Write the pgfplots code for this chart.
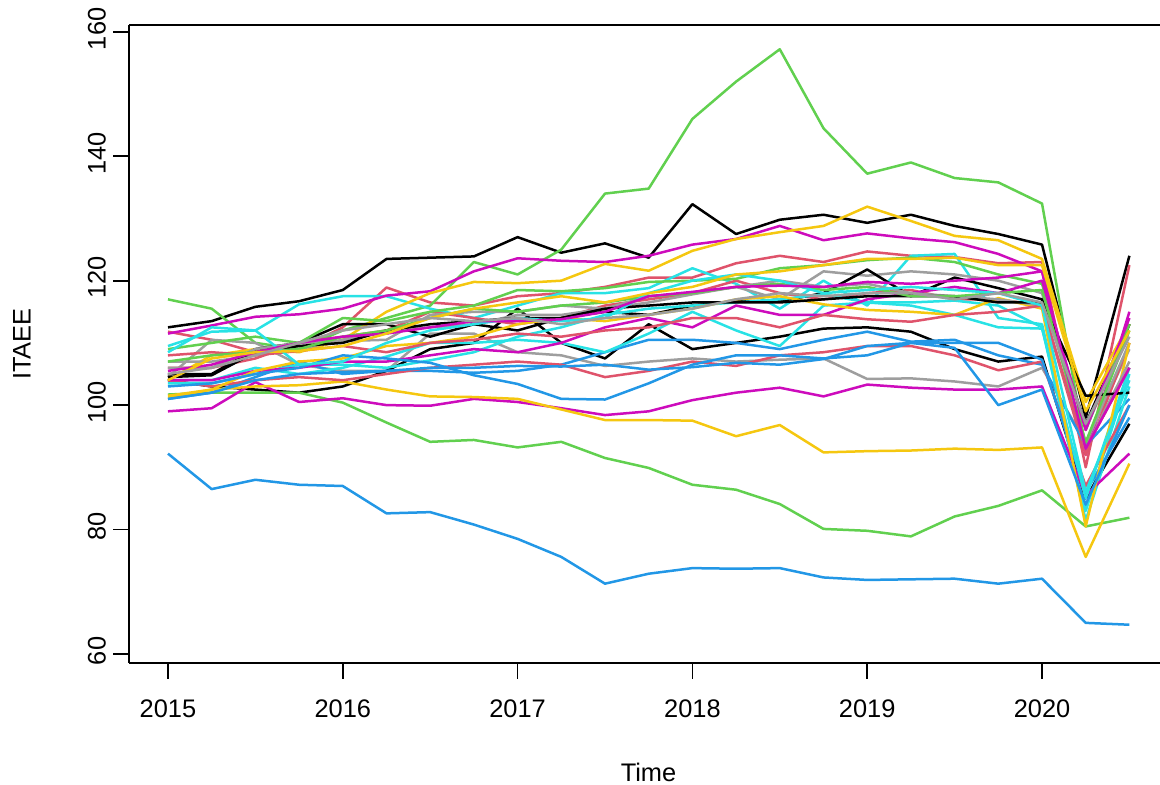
\documentclass[border=0pt]{standalone}
\usepackage{pgfplots}
\pgfplotsset{compat=1.18}
\usepackage{fontspec}
\setmainfont{Liberation Sans}
\definecolor{rblack}{HTML}{000000}
\definecolor{rred}{HTML}{DF536B}
\definecolor{rgreen}{HTML}{61D04F}
\definecolor{rblue}{HTML}{2297E6}
\definecolor{rcyan}{HTML}{28E2E5}
\definecolor{rmag}{HTML}{CD0BBC}
\definecolor{ryel}{HTML}{F5C710}
\definecolor{rgray}{HTML}{9E9E9E}
\newcommand{\ser}[2]{\addplot[#1] table[x expr={2015+0.25*\coordindex}, y index=0, row sep=\\, header=false] {#2};}
\begin{document}
\begin{tikzpicture}
\useasboundingbox (0,0) rectangle (580pt,392.5pt);
\clip (0,0) rectangle (580pt,392.5pt);
\begin{axis}[
  at={(64.5pt,61pt)}, anchor=south west,
  scale only axis, width=515.5pt, height=319pt,
  xmin=2014.777, xmax=2020.675, ymin=58.55, ymax=161.1,
  axis y line*=left,
  axis line style={line width=0.9pt},
  xtick={2015,2016,2017,2018,2019,2020},
  ytick={60,80,100,120,140,160},
  xtick pos=bottom, ytick pos=left,
  tick align=outside, major tick length=8pt,
  tick style={line width=0.9pt, black},
  /pgf/number format/assume math mode=true,
  /pgf/number format/1000 sep={},
  tick label style={font=\fontsize{12.7pt}{14pt}\selectfont},
  xticklabel style={yshift=-7pt},
  yticklabel style={rotate=90, anchor=south, xshift=1.5pt},
  every axis plot/.append style={line width=1.25pt, line join=round},
  clip=true,
]
\ser{rblack}{112.5\\113.5\\115.8\\116.7\\118.5\\123.5\\123.7\\123.9\\127\\124.5\\126\\123.7\\132.3\\127.5\\129.8\\130.6\\129.3\\130.6\\128.8\\127.5\\125.8\\98\\124\\}
\ser{rred}{111.8\\110.5\\108.5\\109\\112.5\\118.9\\116.5\\116\\117.5\\118\\119\\120.5\\120.5\\122.8\\124\\123\\124.7\\124\\123.8\\122.8\\123\\90\\122.5\\}
\ser{rgreen}{117\\115.5\\110\\109\\112\\114\\116\\123\\121\\125\\134\\134.8\\146\\152\\157.2\\144.5\\137.2\\139\\136.5\\135.8\\132.4\\93\\113\\}
\ser{rblue}{92.2\\86.5\\88\\87.2\\87\\82.6\\82.8\\80.8\\78.5\\75.6\\71.3\\72.9\\73.8\\73.7\\73.8\\72.3\\71.9\\72\\72.1\\71.3\\72.1\\65\\64.7\\}
\ser{rcyan}{109.5\\111.8\\112\\116.2\\117.5\\117.5\\115.5\\114\\116\\118\\118\\118.8\\122\\119.5\\115.5\\120\\116\\124\\124.3\\114\\113\\83\\105\\}
\ser{rmag}{111.5\\112.8\\114.2\\114.6\\115.5\\117.6\\118.3\\121.5\\123.6\\123.2\\123\\124\\125.8\\126.7\\128.8\\126.5\\127.6\\126.8\\126.2\\124.3\\121.5\\92\\115\\}
\ser{ryel}{104\\108\\109\\108.5\\110.5\\115\\118\\119.8\\119.6\\120\\122.7\\121.6\\124.8\\126.7\\127.8\\128.8\\131.9\\129.6\\127.2\\126.5\\123.5\\100.5\\113\\}
\ser{rgray}{104.5\\110.5\\110\\106.5\\105.5\\105.5\\111.5\\111.5\\108.5\\108\\106.3\\107\\107.5\\107\\107.3\\107.5\\104.2\\104.3\\103.8\\103\\106\\94\\109\\}
\ser{rblack}{104\\103\\102.5\\102\\103\\105.5\\109\\110\\115.5\\110\\107.5\\113\\109\\110\\111\\112.3\\112.5\\111.8\\109\\107\\107.8\\85\\97\\}
\ser{rred}{106\\106\\107.5\\110\\111\\112\\115\\114\\113\\114\\116\\117\\118\\120\\118\\117\\118\\118.5\\117\\117\\116\\92\\110\\}
\ser{rgreen}{101.7\\102\\102\\102\\100.4\\97.2\\94.1\\94.4\\93.2\\94.1\\91.5\\89.9\\87.2\\86.4\\84.1\\80.1\\79.8\\78.9\\82.1\\83.8\\86.3\\80.5\\81.9\\}
\ser{rblue}{101\\102\\104.5\\107\\105\\105.5\\105.5\\105.2\\105.5\\106.5\\108.5\\110.5\\110.5\\110\\109\\110.5\\111.8\\110.2\\110.5\\108\\106.5\\93.5\\101\\}
\ser{rcyan}{104\\104\\106\\105\\106\\107.8\\110\\110\\110.5\\110\\108.5\\111.5\\115\\112\\109.5\\116\\116.5\\116.5\\116.8\\116\\112.5\\81.5\\103\\}
\ser{rmag}{99\\99.5\\103.7\\100.5\\101.1\\100\\99.9\\101\\100.5\\99.5\\98.4\\99\\100.8\\102\\102.8\\101.4\\103.3\\102.8\\102.5\\102.5\\103\\85.5\\92.2\\}
\ser{ryel}{101.2\\102.5\\103\\103.2\\103.8\\102.5\\101.4\\101.3\\101\\99.3\\97.6\\97.6\\97.5\\95\\96.8\\92.4\\92.6\\92.7\\93\\92.8\\93.2\\75.6\\90.6\\}
\ser{rgray}{107\\107\\108\\109\\110.5\\112\\112.5\\113\\114.5\\114.5\\115.5\\116.5\\117.8\\119\\117\\121.5\\120.8\\121.5\\121\\120\\118\\94\\110\\}
\ser{rblack}{105\\105\\109\\110\\113\\113\\111\\113\\112\\114\\115\\114.5\\116\\116.7\\116.7\\118\\121.8\\117.5\\120.5\\118.8\\117\\97\\113\\}
\ser{rred}{104\\103\\104\\104.5\\104\\105\\106\\106.5\\107\\106.5\\104.5\\105.5\\107\\106.3\\108\\108.5\\109.5\\109.5\\108\\105.6\\107\\87\\100\\}
\ser{rgreen}{109\\110\\111\\110\\114\\113.5\\115\\116\\118.5\\118.3\\118.8\\119.8\\120\\120.3\\122\\122.5\\123.3\\123.7\\123\\121\\119.5\\96\\113\\}
\ser{rblue}{101\\102\\104\\105\\105.3\\105.5\\106\\106\\106.3\\106.2\\106.5\\105.7\\106.1\\106.8\\106.5\\107.4\\109.5\\110\\110\\110\\107.3\\86\\98\\}
\ser{rcyan}{103.5\\103.5\\105\\106.5\\106.5\\106\\107.2\\108.5\\111\\112.5\\114.5\\115.5\\116\\116.5\\117\\117.8\\116.5\\116\\114.5\\112.5\\112.3\\85\\106\\}
\ser{rmag}{104\\104\\105.5\\106\\107\\107\\108\\109\\108.5\\110\\112.5\\114\\112.5\\116\\114.5\\114.5\\117\\118\\119\\118\\120\\96\\114\\}
\ser{ryel}{101.5\\102.5\\105.5\\107\\107.5\\109.5\\110\\111\\113\\114\\113.5\\114.5\\115.5\\117\\117.5\\116.2\\115.3\\115\\114.5\\117.2\\115.5\\80.5\\110\\}
\ser{rgray}{106\\106\\109\\110\\110.3\\110.5\\114.5\\115\\115\\116\\115.5\\117.5\\118\\119\\120\\119\\119.5\\118\\117.5\\117\\116\\93\\107\\}
\ser{rblack}{104.5\\104.8\\108.5\\109.5\\110\\112\\113\\113.5\\114\\114\\115.5\\116\\116.5\\116.5\\116.5\\117\\117.5\\117.5\\117.5\\116.5\\116.5\\101.5\\102\\}
\ser{rred}{108\\108.5\\108\\108.7\\109.5\\108.5\\110\\110.5\\111.5\\111\\112\\112.5\\114\\114\\112.5\\114.5\\113.8\\113.4\\114.5\\115\\116\\93\\106\\}
\ser{rgreen}{107\\108\\108.5\\109\\111\\112\\114\\115.5\\115\\116\\116.5\\117.5\\118\\119\\119.5\\118.5\\119\\117.5\\117.5\\118\\118.5\\94\\112\\}
\ser{rblue}{103\\103.5\\105\\106\\108\\107.5\\106.8\\104.8\\103.4\\101\\100.9\\103.5\\106.5\\108\\108\\107.5\\108\\110\\109.2\\100\\102.5\\84\\100\\}
\ser{rcyan}{108.5\\112.5\\112\\106.5\\107\\110\\112\\113\\114\\113.5\\114\\118\\120\\121\\120\\118\\118.5\\119\\118.5\\118\\116\\86\\104\\}
\ser{rmag}{105.5\\106.5\\108.5\\110\\111\\111.5\\112.5\\113.5\\113.5\\113.8\\115\\117.5\\118.2\\119\\119.2\\119\\119.8\\119.5\\120\\120.5\\121.5\\93\\106\\}
\ser{ryel}{104\\107.5\\108.5\\108.7\\109.5\\111.5\\114\\115.5\\116.5\\117.5\\116.5\\118\\119\\121\\121.5\\122.5\\123.5\\123.5\\123.7\\122.5\\122.5\\99\\112\\}
\ser{rgray}{105\\106\\108\\110\\112\\113\\114\\113.5\\114\\113\\114\\114.5\\115.5\\117\\118\\117.5\\118\\118\\117\\118\\116.5\\97\\111\\}
\end{axis}
\node[font=\fontsize{12.7pt}{14pt}\selectfont] at (324.25pt,6.5pt) {Time};
\node[font=\fontsize{12.7pt}{14pt}\selectfont, rotate=90] at (11pt,220.5pt) {ITAEE};
\end{tikzpicture}
\end{document}
